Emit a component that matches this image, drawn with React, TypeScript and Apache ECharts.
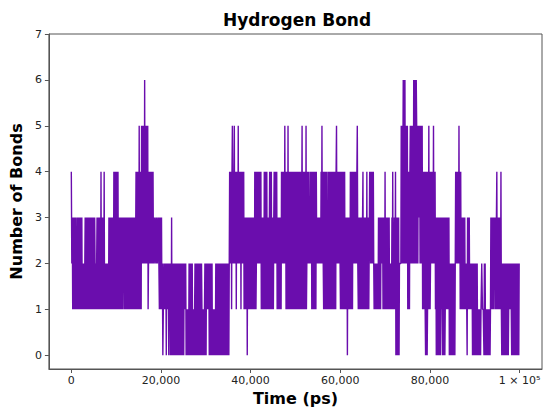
import React, { useEffect, useRef } from "react";
import * as echarts from "echarts";

// Hydrogen-bond count time series.
// Each segment starts at the given time (ps); its digits are successive samples
// spread evenly until the next segment starts.
const segmentStartPs = [
  0, 221, 1104, 2428, 3091, 5298, 5740, 7506, 8389, 9492, 10596, 14349, 15673,
  17219, 18322, 19647, 20309, 21192, 24283, 25166, 25607, 26269, 27152, 27594,
  29139, 29801, 30243, 30684, 31567, 32230, 35320, 38631, 40839, 41280, 42384,
  43046, 43709, 44150, 44812, 45254, 45916, 46799, 47903, 49669, 50773, 52539,
  53642, 54746, 55629, 56291, 58058, 59161, 60044, 60706, 61589, 61810, 62252,
  62914, 63797, 64018, 66448, 66669, 67550, 67770, 68433, 69095, 69536, 71082,
  72406, 73289, 73510, 73951, 74614, 75055, 75717, 76380, 77042, 77483, 77704,
  78366, 79029, 79470, 80132, 80795, 81236, 82781, 84327, 85651, 86755, 86976,
  87859, 88300, 88962, 89404, 90066, 90728, 91391, 92053, 92495, 93598, 94923,
  96026, 97571, 98234, 100000,
];

const segmentSamples = [
  "42", "3131313131", "21313131213131313", "12121212",
  "3131313131313131313131313", "21212", "31313131314131313141", "2121212121",
  "313131313131", "414141414141",
  "3131313131323131313131313123131313131313131", "141414141514141",
  "525252526252525251", "242424242424", "223223232232", "1313131", "20121212",
  "0212120212020302020202020202020201", "2020202020", "21212", "0101010",
  "2020202020", "10101", "20202020202020202", "1010101", "20202", "12121",
  "2020202020", "0101010", "20202020202020202020202020202020202",
  "42424145242452424142425242424142424241", "3131313031313131313131313",
  "14141", "242424242424", "1313131", "4141414", "13131", "1414141", "31313",
  "4242424", "1313131313", "142424242524", "14141514141414141414",
  "414141414141", "14141413514141414151", "242424232424", "141414141414",
  "2323232323", "2425242", "14141414131414141414", "141414141414",
  "5242424242", "1414141", "1414131313", "03", "13131", "4141414",
  "2424242424", "52", "1313131313134131313131413131", "14", "4242424242", "1",
  "2121212", "1313131", "32323", "13131413131313131", "121213141213124",
  "0303030302", "2", "25252", "2626262", "52525", "1414145", "2525252",
  "6262626", "52525", "34", "5252525", "1414141", "04040", "1415141",
  "2424242", "52424", "13030303030303131", "03030301313131313",
  "020202020202020", "242424242524", "14", "1313131313", "12121", "0313131",
  "12121", "2020202", "0202020", "0101010", "1211", "02020", "010101010101",
  "313131313231313", "413131313141", "02020202020202020", "1212121",
  "02020202020202020202", "2",
];

const xTickValues = [0, 20000, 40000, 60000, 80000, 100000];
const yTickValues = [0, 1, 2, 3, 4, 5, 6, 7];

function buildSeries(): [number, number][] {
  const out: [number, number][] = [];
  for (let i = 0; i < segmentStartPs.length; i++) {
    const s = segmentStartPs[i];
    const e = i + 1 < segmentStartPs.length ? segmentStartPs[i + 1] : s;
    const digits = segmentSamples[i];
    const n = digits.length;
    for (let k = 0; k < n; k++) {
      out.push([s + (k * (e - s)) / n, Number(digits[k])]);
    }
  }
  return out;
}

const FONT = "DejaVu Sans";

export default function App() {
  const ref = useRef<HTMLDivElement>(null);

  useEffect(() => {
    document.body.style.margin = "0";
    if (!ref.current) return;
    const chart = echarts.init(ref.current, undefined, { renderer: "svg" });
    const axisColor = "#555";
    chart.setOption({
      animation: false,
      backgroundColor: "#ffffff",
      title: {
        text: "Hydrogen Bond",
        left: 292,
        textAlign: "center",
        top: 6,
        textStyle: {
          fontFamily: FONT,
          fontWeight: "bold",
          fontSize: 17,
          color: "#000",
        },
      },
      grid: {
        left: 42,
        top: 34,
        right: 8,
        bottom: 44,
        show: true,
        borderColor: axisColor,
        borderWidth: 1,
        backgroundColor: "transparent",
      },
      xAxis: {
        type: "value",
        min: -5000,
        max: 105000,
        name: "Time (ps)",
        nameLocation: "middle",
        nameGap: 19,
        nameTextStyle: {
          fontFamily: FONT,
          fontWeight: "bold",
          fontSize: 16,
          color: "#000",
        },
        splitLine: { show: false },
        axisLine: {
          show: true,
          onZero: false,
          lineStyle: { color: axisColor, width: 1 },
        },
        axisTick: {
          show: true,
          length: 4,
          customValues: xTickValues,
          lineStyle: { color: axisColor },
        },
        axisLabel: {
          customValues: xTickValues,
          margin: 6,
          fontFamily: FONT,
          fontSize: 11,
          color: "#222",
          formatter: (v: number) =>
            v === 100000 ? "1 × 10⁵" : v.toLocaleString("en-US"),
        },
      },
      yAxis: {
        type: "value",
        min: -0.3,
        max: 7,
        name: "Number of Bonds",
        nameLocation: "middle",
        nameGap: 22,
        nameTextStyle: {
          fontFamily: FONT,
          fontWeight: "bold",
          fontSize: 16,
          color: "#000",
        },
        splitLine: { show: false },
        axisLine: {
          show: true,
          onZero: false,
          lineStyle: { color: axisColor, width: 1 },
        },
        axisTick: {
          show: true,
          length: 4,
          customValues: yTickValues,
          lineStyle: { color: axisColor },
        },
        axisLabel: {
          customValues: yTickValues,
          margin: 7,
          fontFamily: FONT,
          fontSize: 11,
          color: "#222",
        },
      },
      series: [
        {
          type: "line",
          data: buildSeries(),
          showSymbol: false,
          symbol: "none",
          lineStyle: { color: "#6a0dad", width: 1.4, join: "miter", miterLimit: 1 },
          emphasis: { disabled: true },
        },
      ],
    });
    return () => chart.dispose();
  }, []);

  return <div ref={ref} style={{ width: 550, height: 413 }} />;
}
